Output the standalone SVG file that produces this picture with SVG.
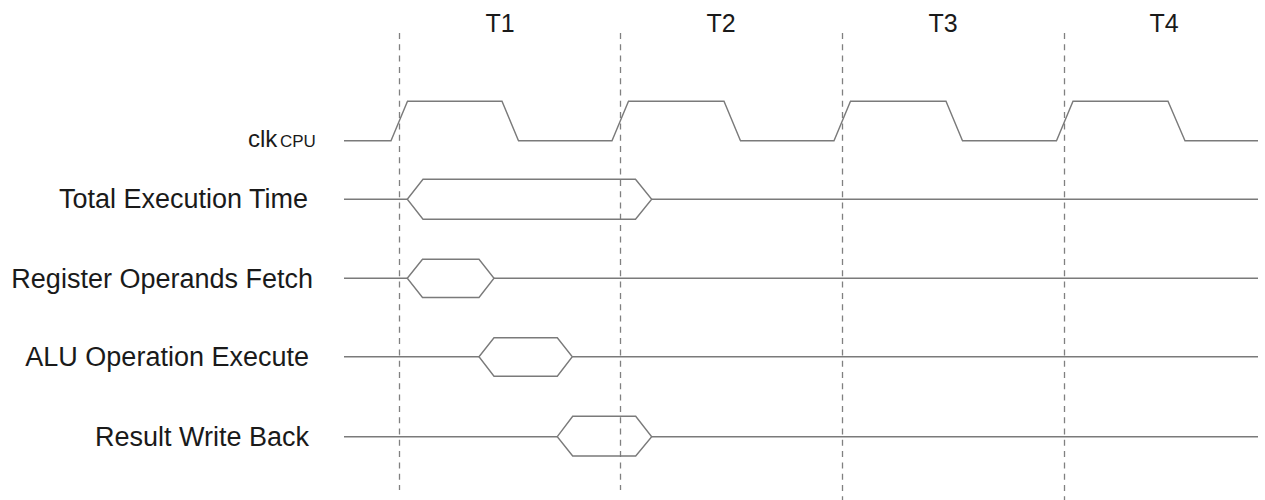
<svg xmlns="http://www.w3.org/2000/svg" width="1265" height="500" viewBox="0 0 1265 500">
<style>
.lbl{font-family:"Liberation Sans",Arial,sans-serif;font-size:27px;fill:#1a1a1a;text-anchor:end}
.tl{font-family:"Liberation Sans",Arial,sans-serif;font-size:25px;fill:#1a1a1a;text-anchor:middle}
.sig{fill:none;stroke:#7a7a7a;stroke-width:1.4;stroke-linejoin:miter}
.grid{stroke:#808080;stroke-width:1.3;stroke-dasharray:6 5.3;fill:none}
</style>
<rect width="1265" height="500" fill="#ffffff"/>
<g id="grid">
<line class="grid" x1="399.5" y1="33" x2="399.5" y2="490"/>
<line class="grid" x1="620.5" y1="33" x2="620.5" y2="490"/>
<line class="grid" x1="842.5" y1="33" x2="842.5" y2="500"/>
<line class="grid" x1="1064.5" y1="33" x2="1064.5" y2="500"/>
</g>
<g id="periods">
<text class="tl" x="500" y="31.5">T1</text>
<text class="tl" x="721" y="31.5">T2</text>
<text class="tl" x="943" y="31.5">T3</text>
<text class="tl" x="1164" y="31.5">T4</text>
</g>
<g id="clk">
<text x="248" y="147.3" style="font-family:'Liberation Sans',Arial,sans-serif;font-size:24px;fill:#1a1a1a">clk<tspan x="280" style="font-size:17px">CPU</tspan></text>
<path class="sig" d="M344,140.7 H391 L407.5,101.3 H502 L518.5,140.7 H612 L628.5,101.3 H724 L740.5,140.7 H834 L850.5,101.3 H946 L962.5,140.7 H1056.5 L1073,101.3 H1168 L1185,140.7 H1258"/>
</g>
<g id="total">
<text class="lbl" x="308" y="208">Total Execution Time</text>
<path class="sig" d="M344,199.3 H407.3 M651.7,199.3 H1258"/>
<path class="sig" d="M407.3,199.3 L423,179.3 H635.5 L651.7,199.3 L635.5,219.3 H423 Z"/>
</g>
<g id="fetch">
<text class="lbl" x="313" y="288">Register Operands Fetch</text>
<path class="sig" d="M344,278.3 H407.3 M494,278.3 H1258"/>
<path class="sig" d="M407.3,278.3 L422.5,259.3 H479 L494,278.3 L479,297.5 H422.5 Z"/>
</g>
<g id="alu">
<text class="lbl" x="309" y="366">ALU Operation Execute</text>
<path class="sig" d="M344,356.7 H479 M572.3,356.7 H1258"/>
<path class="sig" d="M479,356.7 L494,337.7 H557.3 L572.3,356.7 L557.3,376.2 H494 Z"/>
</g>
<g id="writeback">
<text class="lbl" x="309" y="446">Result Write Back</text>
<path class="sig" d="M344,436.7 H557.3 M651.7,436.7 H1258"/>
<path class="sig" d="M557.3,436.7 L572.7,416.3 H635.7 L651.7,436.7 L635.7,456 H572.7 Z"/>
</g>
</svg>
